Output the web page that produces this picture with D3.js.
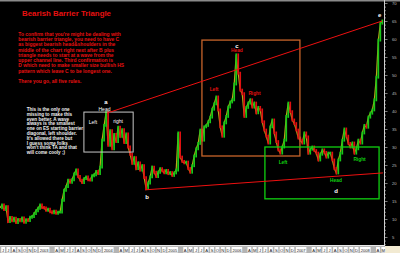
<!DOCTYPE html>
<html><head><meta charset="utf-8">
<script src="https://cdn.jsdelivr.net/npm/d3@7"></script>
<style>
html,body{margin:0;padding:0;background:#000;overflow:hidden}
svg{display:block}
text{font-family:"Liberation Sans",Arial,Helvetica,sans-serif}
</style>
</head><body>
<svg id="chart" width="400" height="253"></svg>
<script>
// ---------- data ----------
const seriesStart = "2002-05-25";
const stepDays = 11.38;
const prices = [
  13.1,13.9,12.6,13.4,9.3,10.4,9.5,10.2,9.0,9.9,
  9.5,10.3,9.1,9.8,9.6,10.5,10.7,11.5,12.3,13.0,
  13.9,13.2,13.1,12.4,12.7,12.0,11.7,12.2,11.6,11.9,
  11.9,15.2,18.0,19.0,20.8,20.2,20.9,22.5,23.6,21.8,
  20.8,20.1,21.2,21.7,20.9,20.8,22.0,22.3,23.2,22.6,
  24.4,31.9,36.0,39.6,30.5,34.5,29.5,33.5,31.5,35.5,
  33.0,34.8,31.2,33.6,30.0,28.0,25.5,27.0,24.0,25.6,
  23.6,24.8,21.5,18.5,20.0,21.7,24.4,23.0,21.8,23.0,
  24.0,23.4,22.8,23.5,22.6,22.9,22.1,22.8,23.6,33.9,
  27.2,26.0,25.6,25.8,24.0,23.0,24.8,27.5,29.5,31.0,
  34.7,31.9,35.6,36.0,37.0,38.3,40.5,42.0,43.9,40.3,
  35.6,33.0,36.7,38.5,41.1,42.5,43.1,47.5,55.6,50.5,
  45.8,44.8,38.5,41.0,42.2,43.1,41.1,42.2,39.5,41.0,
  40.3,37.0,34.7,33.0,31.1,35.6,37.5,33.9,31.5,29.2,
  28.3,30.0,31.9,38.5,42.2,39.8,37.5,36.5,34.7,32.5,
  31.9,31.1,33.9,32.8,28.3,29.4,30.0,29.0,28.3,26.4,
  28.0,29.2,28.5,27.2,28.3,28.3,26.4,24.0,22.8,26.4,
  28.3,31.9,35.0,33.0,31.0,30.0,31.1,28.3,29.5,31.9,
  31.1,33.9,36.0,35.5,38.3,39.4,40.3,43.1,49.4,59.7,
  64.4,65.0
];
const yTicks = [5,10,15,20,25,30,35,40,45,50,55,60,65,70];
const monthLetters = ["J","F","M","A","M","J","J","A","S","O","N","D"];
const xDomain = ["2002-05-25","2008-05-16"];
const yDomain = [0,70];

const upperLine = [{d:"2004-01-23",v:39.4},{d:"2008-05-05",v:65.0}];
const lowerLine = [{d:"2004-08-27",v:18.1},{d:"2008-05-10",v:22.8}];
const boxes = [
  {d0:"2003-09-14",d1:"2004-06-20",v0:28.6,v1:39.7,kind:"white"},
  {d0:"2005-07-16",d1:"2007-01-24",v0:27.5,v1:59.7,kind:"orange"},
  {d0:"2006-07-09",d1:"2008-04-18",v0:15.6,v1:30.0,kind:"green"}
];
const labels = [
  {t:"a",d:"2004-01-17",v:42.5,kind:"pt"},
  {t:"Head",d:"2004-01-09",v:40.6,kind:"w"},
  {t:"Left",d:"2003-11-04",v:36.9,kind:"w"},
  {t:"right",d:"2004-03-26",v:37.2,kind:"w"},
  {t:"b",d:"2004-09-07",v:16.1,kind:"pt"},
  {t:"c",d:"2006-01-31",v:58.1,kind:"pt"},
  {t:"Head",d:"2006-01-31",v:56.7,kind:"r"},
  {t:"Left",d:"2005-09-23",v:46.1,kind:"r"},
  {t:"Right",d:"2006-05-11",v:45.0,kind:"r"},
  {t:"Left",d:"2006-10-20",v:25.6,kind:"g"},
  {t:"Right",d:"2007-12-29",v:26.4,kind:"g"},
  {t:"Head",d:"2007-08-17",v:20.6,kind:"g"},
  {t:"d",d:"2007-08-17",v:17.8,kind:"pt"},
  {t:"e",d:"2008-04-21",v:66.7,kind:"pt"}
];
const titleText = "Bearish Barrier Triangle";
const noteLines = [
  "To confirm that you're might be dealing with",
  "bearish barrier triangle, you need to have C",
  "as biggest bearish head&shoulders in the",
  "middle of the chart right next after B plus",
  "triangle needs to start at a wave from the",
  "upper channel line. Third confirmation is",
  "D which need to make smaller size bullish HS",
  "pattern which leave C to be longest one."
];
const noteEnd = "There you go, all five rules.";
const sideLines = [
  "This is the only one",
  "missing to make this",
  "even better. A wave",
  "always is the smallest",
  "one on ES starting barrier",
  "diagonal, left shoulder.",
  "It's allowed there but",
  "I guess some folks",
  "won't think TA and that",
  "will come cooly ;)"
];

// ---------- drawing ----------
const parse = d3.timeParse("%Y-%m-%d");
const svg = d3.select("#chart");
const W = 400, H = 253, plotR = 384, stripY = 245;

svg.append("rect").attr("width",W).attr("height",H).attr("fill","#000");
svg.append("rect").attr("width",W).attr("height",1.5).attr("fill","#8a8a8a");

const x = d3.scaleTime().domain(xDomain.map(parse)).range([0,plotR]);
const y = d3.scaleLinear().domain(yDomain).range([255,3]);

const t0 = parse(seriesStart).getTime();
const data = prices.map((v,i)=>({date:new Date(t0 + i*stepDays*864e5), v}));

// price bars
const g = svg.append("g");
g.append("path").datum(data)
  .attr("d", d3.line().x(d=>x(d.date)).y(d=>y(d.v)))
  .attr("fill","none").attr("stroke","#b8a818").attr("stroke-width",1.2);
data.forEach((p,i)=>{
  if(i===0) return;
  const prev = data[i-1].v;
  const up = p.v >= prev;
  const lo = Math.min(prev,p.v)-0.4, hi = Math.max(prev,p.v)+0.4;
  g.append("line")
    .attr("x1",x(p.date)).attr("x2",x(p.date))
    .attr("y1",y(lo)).attr("y2",y(hi))
    .attr("stroke", up ? "#18c818" : "#e01010")
    .attr("stroke-width",1.7);
});

// boxes
const boxColor = {white:"#c8c8c8",orange:"#c8642a",green:"#10d010"};
boxes.forEach(b=>{
  svg.append("rect")
    .attr("x",x(parse(b.d0))).attr("y",y(b.v1))
    .attr("width",x(parse(b.d1))-x(parse(b.d0)))
    .attr("height",y(b.v0)-y(b.v1))
    .attr("fill","none").attr("stroke",boxColor[b.kind])
    .attr("stroke-width", b.kind==="white"?1:1.3);
});

// trend lines
[upperLine, lowerLine].forEach(L=>{
  svg.append("line")
    .attr("x1",x(parse(L[0].d))).attr("y1",y(L[0].v))
    .attr("x2",x(parse(L[1].d))).attr("y2",y(L[1].v))
    .attr("stroke","#ee1010").attr("stroke-width",1);
});

// labels
const lStyle = {
  pt:{fill:"#ffffff",size:6,weight:"bold"},
  w:{fill:"#ffffff",size:5,weight:"normal"},
  r:{fill:"#e01010",size:4.8,weight:"bold"},
  g:{fill:"#10d010",size:4.8,weight:"bold"}
};
labels.forEach(l=>{
  const s = lStyle[l.kind];
  svg.append("text").attr("x",x(parse(l.d))).attr("y",y(l.v))
    .attr("text-anchor","middle").attr("dominant-baseline","central")
    .attr("fill",s.fill).attr("font-size",s.size).attr("font-weight",s.weight)
    .text(l.t);
});

// title + notes
svg.append("text").attr("x",22).attr("y",15.7)
  .attr("fill","#e81010").attr("font-size",8).attr("font-weight","bold")
  .attr("textLength",89).attr("lengthAdjust","spacingAndGlyphs")
  .text(titleText);
noteLines.forEach((t,i)=>{
  svg.append("text").attr("x",18.3).attr("y",35.6 + i*5.3)
    .attr("fill","#e81010").attr("font-size",4.9).attr("font-weight","bold")
    .text(t);
});
svg.append("text").attr("x",18.3).attr("y",83.3)
  .attr("fill","#e81010").attr("font-size",4.9).attr("font-weight","bold").text(noteEnd);
sideLines.forEach((t,i)=>{
  svg.append("text").attr("x",26.7).attr("y",110.9 + i*4.82)
    .attr("fill","#f0f0f0").attr("font-size",4.6).attr("font-weight","bold")
    .text(t);
});

// right axis
const ax = svg.append("g");
ax.append("line").attr("x1",plotR+0.5).attr("x2",plotR+0.5).attr("y1",0).attr("y2",stripY)
  .attr("stroke","#d0d0d0").attr("stroke-width",1);
d3.range(1,71).forEach(v=>{
  const major = v%5===0;
  ax.append("line").attr("x1",plotR+1).attr("x2",plotR+(major?3.5:2))
    .attr("y1",y(v)+0.5).attr("y2",y(v)+0.5)
    .attr("stroke","#d0d0d0").attr("stroke-width",0.6);
});
yTicks.forEach(v=>{
  ax.append("text").attr("x",392).attr("y",y(v))
    .attr("dominant-baseline","central")
    .attr("fill","#bdbdbd").attr("font-size",4.2).text(v);
});

// bottom date strip
svg.append("rect").attr("x",0).attr("y",stripY).attr("width",plotR+1).attr("height",H-stripY)
  .attr("fill","#b4b4b4");
svg.append("line").attr("x1",0).attr("x2",plotR+1).attr("y1",stripY+0.5).attr("y2",stripY+0.5)
  .attr("stroke","#e8e8e8");
svg.append("rect").attr("x",plotR+1).attr("y",stripY+1).attr("width",W-plotR-1).attr("height",H-stripY)
  .attr("fill","#f2ead2");
const months = d3.timeMonth.range(parse("2002-06-01"), parse("2008-06-01"));
let lastEnd = -10;
months.forEach(m=>{
  const px = x(m);
  if(px > plotR-2) return;
  const isYear = m.getMonth()===0;
  const lab = isYear ? String(m.getFullYear()) : monthLetters[m.getMonth()];
  const w = isYear ? 10.5 : 3.8;
  if(px < lastEnd + 0.6) return;
  svg.append("rect").attr("x",px).attr("y",stripY+2).attr("width",w).attr("height",5.5)
    .attr("fill","#ffffff");
  svg.append("text").attr("x",px+w/2).attr("y",stripY+5)
    .attr("text-anchor","middle").attr("dominant-baseline","central")
    .attr("fill","#202020").attr("font-size",isYear?4:4.2).text(lab);
  lastEnd = px + w;
});
</script>
</body></html>
